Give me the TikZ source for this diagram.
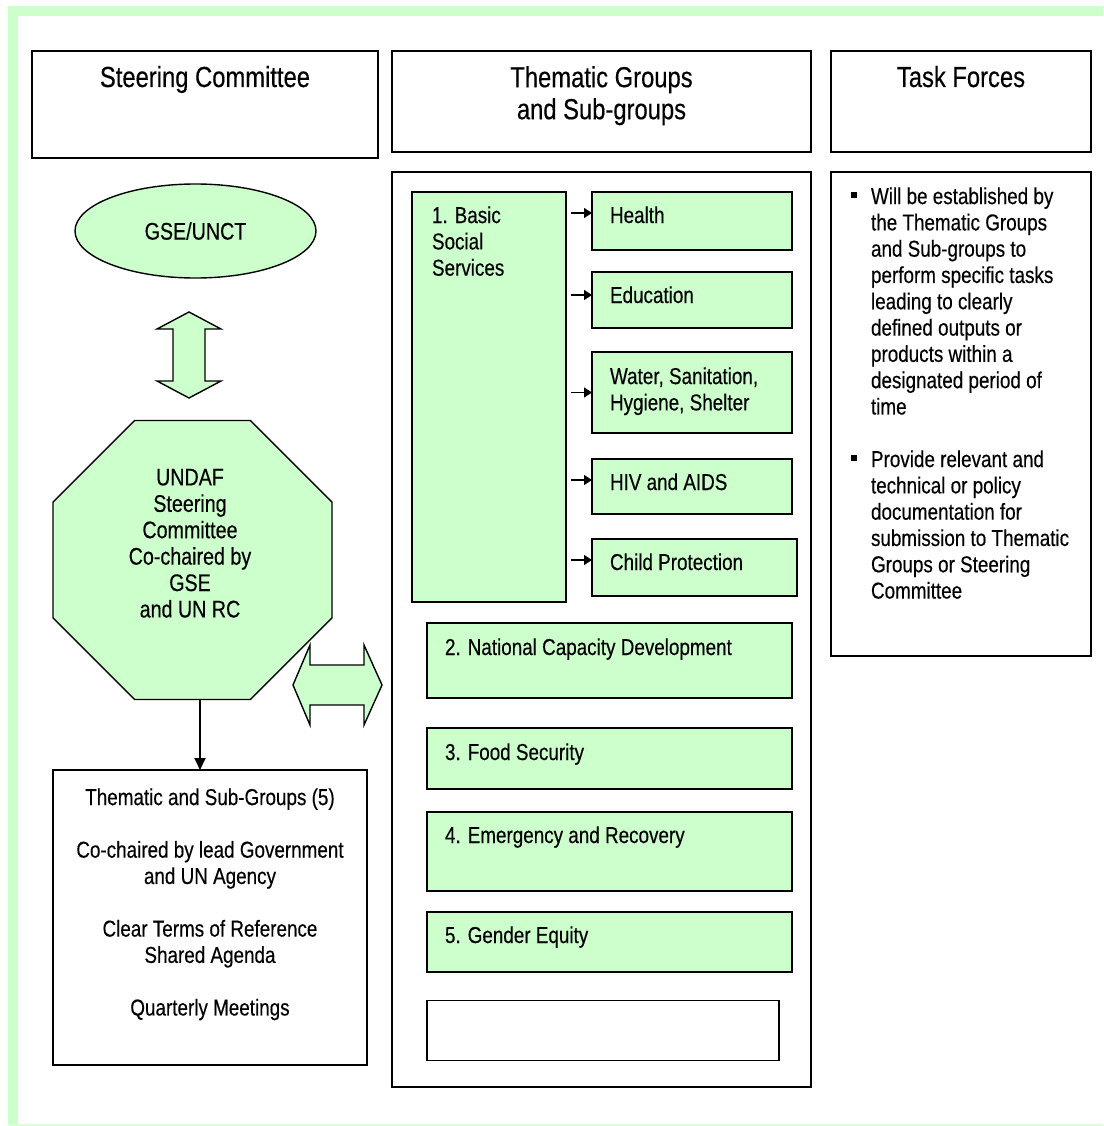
\documentclass[tikz,border=0pt]{standalone}
\usepackage{fontspec}
\setmainfont{Liberation Sans}[FakeStretch=0.82,FakeBold=0.35]
\usetikzlibrary{shapes.geometric,arrows.meta,calc}
\definecolor{lgreen}{HTML}{CCFFCC}
\tikzset{
 box/.style={draw=black, line width=1.4pt, anchor=north west, inner sep=0pt, outer sep=0pt},
 gbox/.style={box, fill=lgreen},
 body/.style={font=\fontsize{23}{26.3}\selectfont, inner sep=0pt, outer sep=0pt},
 hdr/.style={font=\fontsize{29}{32}\selectfont, inner sep=0pt, outer sep=0pt, align=center},
 lbl/.style={body, anchor=base west},
 sarr/.style={-{Triangle[length=8pt,width=10pt]}, line width=1.3pt, shorten <=5pt},
 shapeline/.style={draw=black, line width=1.4pt, fill=lgreen, line join=miter},
}
\begin{document}
\begin{tikzpicture}[x=1pt,y=-1pt]
\useasboundingbox (0,0) rectangle (1103,1126);
% frame
\fill[lgreen] (7.5,6) rectangle (1103,16);
\fill[lgreen] (7.5,6) rectangle (17.5,1126);
\fill[lgreen!70!white] (7.5,1124) rectangle (1103,1126);

% headers
\node[box, minimum width=346, minimum height=107] (hsc) at (32,51) {};
\node[hdr, anchor=base] (hsct) at ($(hsc.north)+(0,36)$) {Steering Committee};
\node[box, minimum width=419, minimum height=101] (htg) at (392,51) {};
\node[hdr, anchor=north] (htgt) at ($(htg.north)+(0,15.2)$) {Thematic Groups\\and Sub-groups};
\node[box, minimum width=260, minimum height=101] (htf) at (831,51) {};
\node[hdr, anchor=base] (htft) at ($(htf.north)+(0,36)$) {Task Forces};

% task forces
\node[box, minimum width=260, minimum height=484] (tf) at (831,172) {};
\fill (851,192) rectangle (857,198);
\fill (851,455) rectangle (857,461);
\node[body, anchor=north west, align=left] (tf1) at (871,187.4) {Will be established by\\the Thematic Groups\\and Sub-groups to\\perform specific tasks\\leading to clearly\\defined outputs or\\products within a\\designated period of\\time};
\node[body, anchor=north west, align=left] (tf2) at (871,450.4) {Provide relevant and\\technical or policy\\documentation for\\submission to Thematic\\Groups or Steering\\Committee};

% thematic groups
\node[box, minimum width=419, minimum height=915] (tg) at (392,172) {};
\node[gbox, minimum width=154, minimum height=410] (bss) at (412,192) {};
\node[body, anchor=north west, align=left] (bsst) at ($(bss.north west)+(20,14.4)$) {1. Basic\\Social\\Services};

\node[gbox, minimum width=200, minimum height=58] (health) at (592,192) {};
\node[gbox, minimum width=200, minimum height=56] (edu) at (592,272) {};
\node[gbox, minimum width=200, minimum height=81] (water) at (592,352) {};
\node[gbox, minimum width=200, minimum height=55] (hiv) at (592,459) {};
\node[gbox, minimum width=205, minimum height=57] (child) at (592,539) {};
\node[lbl] (healtht) at ($(health.north west)+(18,31)$) {Health};
\node[lbl] (edut) at ($(edu.north west)+(18,31)$) {Education};
\node[body, anchor=north west, align=left] (watert) at ($(water.north west)+(18,15.4)$) {Water, Sanitation,\\Hygiene, Shelter};
\node[lbl] (hivt) at ($(hiv.north west)+(18,31)$) {HIV and AIDS};
\node[lbl] (childt) at ($(child.north west)+(18,31)$) {Child Protection};

\path ([yshift=8pt]health.west) coordinate (ah);
\path ([yshift=5pt]edu.west) coordinate (ae);
\path (water.west) coordinate (aw);
\path ([yshift=6.5pt]hiv.west) coordinate (ahv);
\path ([yshift=7.5pt]child.west) coordinate (ac);
\draw[sarr] (bss.east |- ah) -- (ah);
\draw[sarr] (bss.east |- ae) -- (ae);
\draw[sarr] (bss.east |- aw) -- (aw);
\draw[sarr] (bss.east |- ahv) -- (ahv);
\draw[sarr] (bss.east |- ac) -- (ac);

\node[gbox, minimum width=365, minimum height=75] (ncd) at (427,623) {};
\node[gbox, minimum width=365, minimum height=61] (food) at (427,728) {};
\node[gbox, minimum width=365, minimum height=79] (emer) at (427,812) {};
\node[gbox, minimum width=365, minimum height=60] (gend) at (427,912) {};
\node[box, fill=white, minimum width=352, minimum height=60] (empty) at (427,1000.5) {};
\node[lbl] (ncdt) at ($(ncd.north west)+(18,32)$) {2. National Capacity Development};
\node[lbl] (foodt) at ($(food.north west)+(18,32)$) {3. Food Security};
\node[lbl] (emert) at ($(emer.north west)+(18,31)$) {4. Emergency and Recovery};
\node[lbl] (gendt) at ($(gend.north west)+(18,31)$) {5. Gender Equity};

% left column
\node[ellipse, shapeline, minimum width=241, minimum height=94, inner sep=0pt, font=\fontsize{24}{26}\selectfont] (gse) at (195.5,231) {GSE/UNCT};
\draw[shapeline] (189,312) -- (221,329) -- (205,329) -- (205,381) -- (221,381) -- (189,398) -- (157,381) -- (173,381) -- (173,329) -- (157,329) -- cycle;
\node[regular polygon, regular polygon sides=8, minimum size=302, shapeline, inner sep=0pt, outer sep=0pt] (oct) at (192.5,560) {};
\node[font=\fontsize{24}{26.4}\selectfont, align=center, anchor=north, inner sep=0pt] (octt) at (190,468.7) {UNDAF\\Steering\\Committee\\Co-chaired by\\GSE\\and UN RC};
\draw[shapeline] (293,685) -- (310,645) -- (310,665) -- (364,665) -- (364,645) -- (382,685) -- (364,725) -- (364,705) -- (310,705) -- (310,725) -- cycle;

\node[box, minimum width=314, minimum height=295] (lbox) at (53,770) {};
\coordinate (dstart) at (200,699);
\draw[line width=1.8pt, -{Triangle[length=12pt,width=11pt]}] (dstart) -- (dstart |- lbox.north);
\node[body, align=center, anchor=north] (lboxt) at (210,788.4) {Thematic and Sub-Groups (5)\\[26.3pt]Co-chaired by lead Government\\and UN Agency\\[26.3pt]Clear Terms of Reference\\Shared Agenda\\[26.3pt]Quarterly Meetings};
\end{tikzpicture}
\end{document}
